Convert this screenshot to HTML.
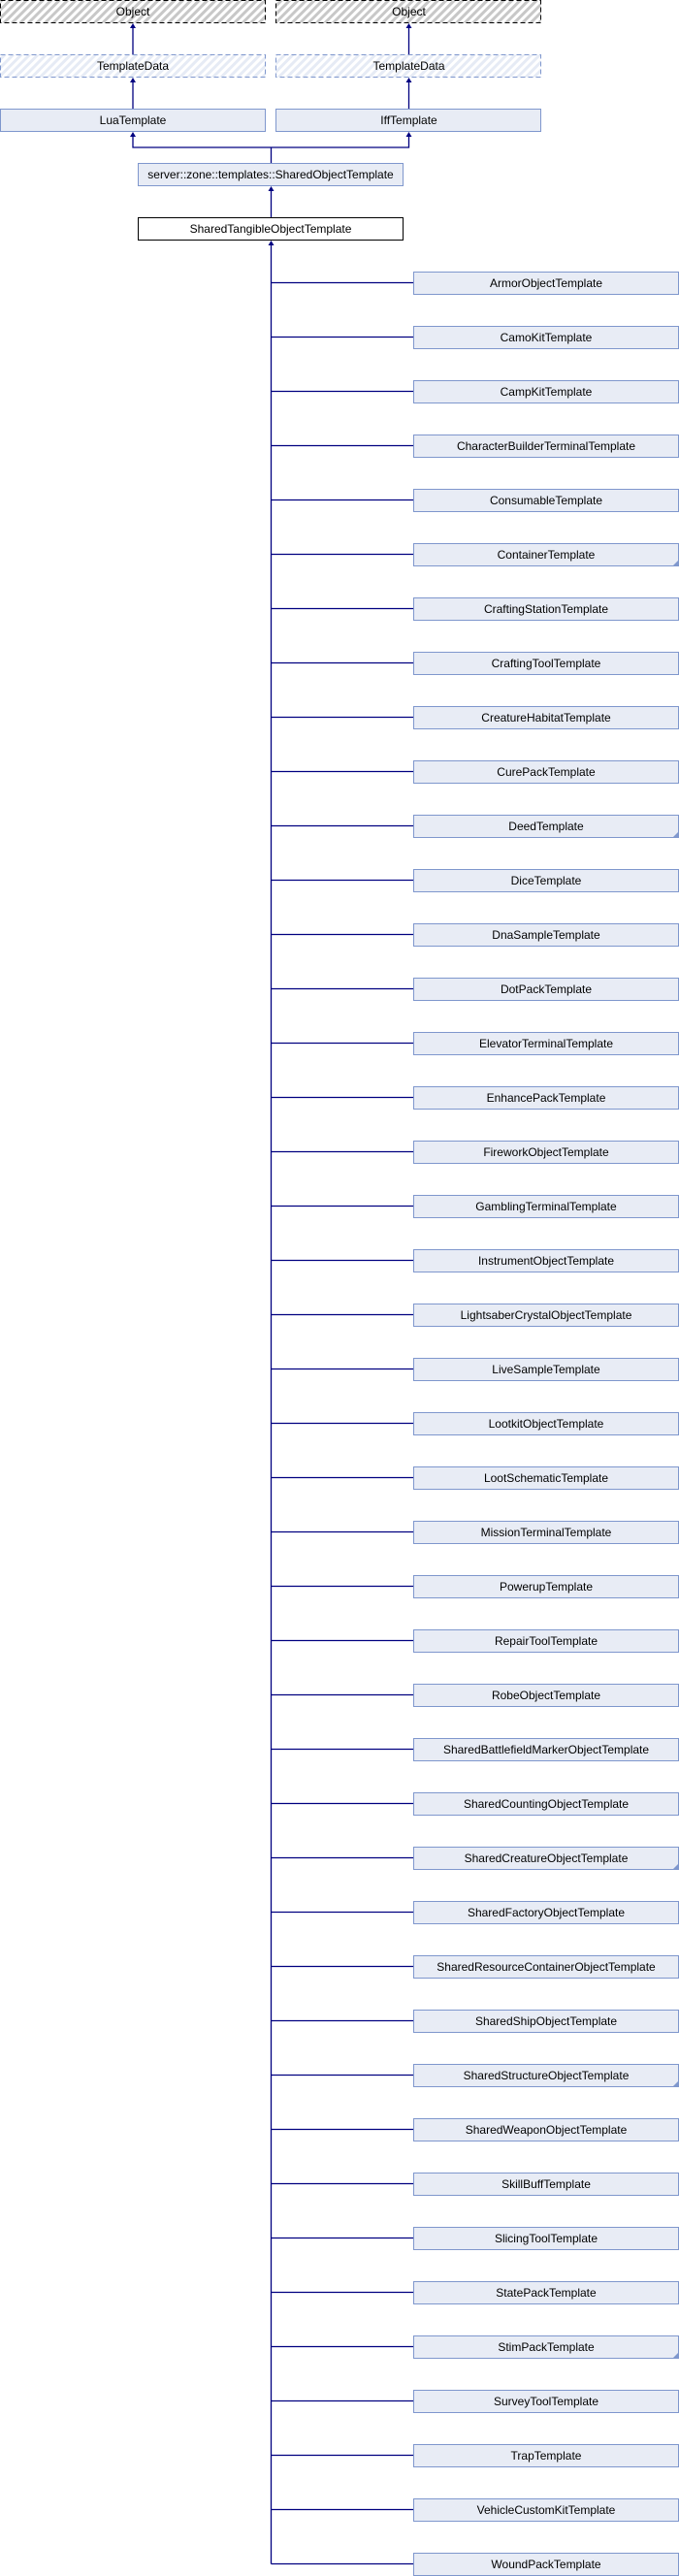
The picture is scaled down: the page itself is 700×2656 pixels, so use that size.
<!DOCTYPE html>
<html><head><meta charset="utf-8"><style>
html,body{margin:0;padding:0;background:#fff;}
svg{display:block;}
text{font-family:"Liberation Sans",Arial,sans-serif;font-size:12px;fill:#000;text-anchor:middle;}
.b{fill:#e8ecf5;stroke:#7f97cd;}
.l{stroke:#000080;stroke-width:1.3;}
.f{fill:#7f97cd;}
</style></head><body>
<svg width="700" height="2656" viewBox="0 0 700 2656" xmlns="http://www.w3.org/2000/svg">
<defs>
<pattern id="h1" patternUnits="userSpaceOnUse" width="6" height="6" patternTransform="rotate(45)">
<rect width="6" height="6" fill="#fff"/><rect width="3" height="6" fill="#c8c8c8"/></pattern>
<pattern id="h2" patternUnits="userSpaceOnUse" width="6" height="6" patternTransform="rotate(45)">
<rect width="6" height="6" fill="#fff"/><rect width="3" height="6" fill="#e6ebf5"/></pattern>
</defs>
<g stroke="#000080" stroke-width="1.3" fill="none">
<line x1="137" y1="28" x2="137" y2="57"/>
<line x1="421.5" y1="28" x2="421.5" y2="57"/>
<line x1="137" y1="84" x2="137" y2="112"/>
<line x1="421.5" y1="84" x2="421.5" y2="112"/>
<polyline points="137,140 137,152 421.5,152 421.5,140"/>
<line x1="279.5" y1="152" x2="279.5" y2="168"/>
<line x1="279.5" y1="196" x2="279.5" y2="224"/>
<line x1="279.5" y1="252" x2="279.5" y2="2643.5"/>
</g>
<g fill="#000080">
<polygon points="137,24 134,29 140,29"/>
<polygon points="421.5,24 418.5,29 424.5,29"/>
<polygon points="137,80 134,85 140,85"/>
<polygon points="421.5,80 418.5,85 424.5,85"/>
<polygon points="137,136 134,141 140,141"/>
<polygon points="421.5,136 418.5,141 424.5,141"/>
<polygon points="279.5,192 276.5,197 282.5,197"/>
<polygon points="279.5,248 276.5,253 282.5,253"/>
</g>
<rect x="0.5" y="0.5" width="273" height="23" fill="url(#h1)" stroke="#000" stroke-dasharray="5,3"/>
<text x="137" y="16">Object</text>
<rect x="284.5" y="0.5" width="273" height="23" fill="url(#h1)" stroke="#000" stroke-dasharray="5,3"/>
<text x="421.5" y="16">Object</text>
<rect x="0.5" y="56.5" width="273" height="23" fill="url(#h2)" stroke="#7f97cd" stroke-dasharray="5,3"/>
<text x="137" y="72">TemplateData</text>
<rect x="284.5" y="56.5" width="273" height="23" fill="url(#h2)" stroke="#7f97cd" stroke-dasharray="5,3"/>
<text x="421.5" y="72">TemplateData</text>
<rect class="b" x="0.5" y="112.5" width="273" height="23"/>
<text x="137" y="128">LuaTemplate</text>
<rect class="b" x="284.5" y="112.5" width="273" height="23"/>
<text x="421.5" y="128">IffTemplate</text>
<rect class="b" x="142.5" y="168.5" width="273" height="23"/>
<text x="279" y="184">server::zone::templates::SharedObjectTemplate</text>
<rect x="142.5" y="224.5" width="273" height="23" fill="#fff" stroke="#000"/>
<text x="279" y="240">SharedTangibleObjectTemplate</text>

<g transform="translate(0,280)"><line class="l" x1="279.5" y1="11.5" x2="426" y2="11.5"/><rect class="b" x="426.5" y="0.5" width="273" height="23"/><text x="563" y="16">ArmorObjectTemplate</text></g>
<g transform="translate(0,336)"><line class="l" x1="279.5" y1="11.5" x2="426" y2="11.5"/><rect class="b" x="426.5" y="0.5" width="273" height="23"/><text x="563" y="16">CamoKitTemplate</text></g>
<g transform="translate(0,392)"><line class="l" x1="279.5" y1="11.5" x2="426" y2="11.5"/><rect class="b" x="426.5" y="0.5" width="273" height="23"/><text x="563" y="16">CampKitTemplate</text></g>
<g transform="translate(0,448)"><line class="l" x1="279.5" y1="11.5" x2="426" y2="11.5"/><rect class="b" x="426.5" y="0.5" width="273" height="23"/><text x="563" y="16">CharacterBuilderTerminalTemplate</text></g>
<g transform="translate(0,504)"><line class="l" x1="279.5" y1="11.5" x2="426" y2="11.5"/><rect class="b" x="426.5" y="0.5" width="273" height="23"/><text x="563" y="16">ConsumableTemplate</text></g>
<g transform="translate(0,560)"><line class="l" x1="279.5" y1="11.5" x2="426" y2="11.5"/><rect class="b" x="426.5" y="0.5" width="273" height="23"/><polygon class="f" points="699,18 699,23 694,23"/><text x="563" y="16">ContainerTemplate</text></g>
<g transform="translate(0,616)"><line class="l" x1="279.5" y1="11.5" x2="426" y2="11.5"/><rect class="b" x="426.5" y="0.5" width="273" height="23"/><text x="563" y="16">CraftingStationTemplate</text></g>
<g transform="translate(0,672)"><line class="l" x1="279.5" y1="11.5" x2="426" y2="11.5"/><rect class="b" x="426.5" y="0.5" width="273" height="23"/><text x="563" y="16">CraftingToolTemplate</text></g>
<g transform="translate(0,728)"><line class="l" x1="279.5" y1="11.5" x2="426" y2="11.5"/><rect class="b" x="426.5" y="0.5" width="273" height="23"/><text x="563" y="16">CreatureHabitatTemplate</text></g>
<g transform="translate(0,784)"><line class="l" x1="279.5" y1="11.5" x2="426" y2="11.5"/><rect class="b" x="426.5" y="0.5" width="273" height="23"/><text x="563" y="16">CurePackTemplate</text></g>
<g transform="translate(0,840)"><line class="l" x1="279.5" y1="11.5" x2="426" y2="11.5"/><rect class="b" x="426.5" y="0.5" width="273" height="23"/><polygon class="f" points="699,18 699,23 694,23"/><text x="563" y="16">DeedTemplate</text></g>
<g transform="translate(0,896)"><line class="l" x1="279.5" y1="11.5" x2="426" y2="11.5"/><rect class="b" x="426.5" y="0.5" width="273" height="23"/><text x="563" y="16">DiceTemplate</text></g>
<g transform="translate(0,952)"><line class="l" x1="279.5" y1="11.5" x2="426" y2="11.5"/><rect class="b" x="426.5" y="0.5" width="273" height="23"/><text x="563" y="16">DnaSampleTemplate</text></g>
<g transform="translate(0,1008)"><line class="l" x1="279.5" y1="11.5" x2="426" y2="11.5"/><rect class="b" x="426.5" y="0.5" width="273" height="23"/><text x="563" y="16">DotPackTemplate</text></g>
<g transform="translate(0,1064)"><line class="l" x1="279.5" y1="11.5" x2="426" y2="11.5"/><rect class="b" x="426.5" y="0.5" width="273" height="23"/><text x="563" y="16">ElevatorTerminalTemplate</text></g>
<g transform="translate(0,1120)"><line class="l" x1="279.5" y1="11.5" x2="426" y2="11.5"/><rect class="b" x="426.5" y="0.5" width="273" height="23"/><text x="563" y="16">EnhancePackTemplate</text></g>
<g transform="translate(0,1176)"><line class="l" x1="279.5" y1="11.5" x2="426" y2="11.5"/><rect class="b" x="426.5" y="0.5" width="273" height="23"/><text x="563" y="16">FireworkObjectTemplate</text></g>
<g transform="translate(0,1232)"><line class="l" x1="279.5" y1="11.5" x2="426" y2="11.5"/><rect class="b" x="426.5" y="0.5" width="273" height="23"/><text x="563" y="16">GamblingTerminalTemplate</text></g>
<g transform="translate(0,1288)"><line class="l" x1="279.5" y1="11.5" x2="426" y2="11.5"/><rect class="b" x="426.5" y="0.5" width="273" height="23"/><text x="563" y="16">InstrumentObjectTemplate</text></g>
<g transform="translate(0,1344)"><line class="l" x1="279.5" y1="11.5" x2="426" y2="11.5"/><rect class="b" x="426.5" y="0.5" width="273" height="23"/><text x="563" y="16">LightsaberCrystalObjectTemplate</text></g>
<g transform="translate(0,1400)"><line class="l" x1="279.5" y1="11.5" x2="426" y2="11.5"/><rect class="b" x="426.5" y="0.5" width="273" height="23"/><text x="563" y="16">LiveSampleTemplate</text></g>
<g transform="translate(0,1456)"><line class="l" x1="279.5" y1="11.5" x2="426" y2="11.5"/><rect class="b" x="426.5" y="0.5" width="273" height="23"/><text x="563" y="16">LootkitObjectTemplate</text></g>
<g transform="translate(0,1512)"><line class="l" x1="279.5" y1="11.5" x2="426" y2="11.5"/><rect class="b" x="426.5" y="0.5" width="273" height="23"/><text x="563" y="16">LootSchematicTemplate</text></g>
<g transform="translate(0,1568)"><line class="l" x1="279.5" y1="11.5" x2="426" y2="11.5"/><rect class="b" x="426.5" y="0.5" width="273" height="23"/><text x="563" y="16">MissionTerminalTemplate</text></g>
<g transform="translate(0,1624)"><line class="l" x1="279.5" y1="11.5" x2="426" y2="11.5"/><rect class="b" x="426.5" y="0.5" width="273" height="23"/><text x="563" y="16">PowerupTemplate</text></g>
<g transform="translate(0,1680)"><line class="l" x1="279.5" y1="11.5" x2="426" y2="11.5"/><rect class="b" x="426.5" y="0.5" width="273" height="23"/><text x="563" y="16">RepairToolTemplate</text></g>
<g transform="translate(0,1736)"><line class="l" x1="279.5" y1="11.5" x2="426" y2="11.5"/><rect class="b" x="426.5" y="0.5" width="273" height="23"/><text x="563" y="16">RobeObjectTemplate</text></g>
<g transform="translate(0,1792)"><line class="l" x1="279.5" y1="11.5" x2="426" y2="11.5"/><rect class="b" x="426.5" y="0.5" width="273" height="23"/><text x="563" y="16">SharedBattlefieldMarkerObjectTemplate</text></g>
<g transform="translate(0,1848)"><line class="l" x1="279.5" y1="11.5" x2="426" y2="11.5"/><rect class="b" x="426.5" y="0.5" width="273" height="23"/><text x="563" y="16">SharedCountingObjectTemplate</text></g>
<g transform="translate(0,1904)"><line class="l" x1="279.5" y1="11.5" x2="426" y2="11.5"/><rect class="b" x="426.5" y="0.5" width="273" height="23"/><polygon class="f" points="699,18 699,23 694,23"/><text x="563" y="16">SharedCreatureObjectTemplate</text></g>
<g transform="translate(0,1960)"><line class="l" x1="279.5" y1="11.5" x2="426" y2="11.5"/><rect class="b" x="426.5" y="0.5" width="273" height="23"/><text x="563" y="16">SharedFactoryObjectTemplate</text></g>
<g transform="translate(0,2016)"><line class="l" x1="279.5" y1="11.5" x2="426" y2="11.5"/><rect class="b" x="426.5" y="0.5" width="273" height="23"/><text x="563" y="16">SharedResourceContainerObjectTemplate</text></g>
<g transform="translate(0,2072)"><line class="l" x1="279.5" y1="11.5" x2="426" y2="11.5"/><rect class="b" x="426.5" y="0.5" width="273" height="23"/><text x="563" y="16">SharedShipObjectTemplate</text></g>
<g transform="translate(0,2128)"><line class="l" x1="279.5" y1="11.5" x2="426" y2="11.5"/><rect class="b" x="426.5" y="0.5" width="273" height="23"/><polygon class="f" points="699,18 699,23 694,23"/><text x="563" y="16">SharedStructureObjectTemplate</text></g>
<g transform="translate(0,2184)"><line class="l" x1="279.5" y1="11.5" x2="426" y2="11.5"/><rect class="b" x="426.5" y="0.5" width="273" height="23"/><text x="563" y="16">SharedWeaponObjectTemplate</text></g>
<g transform="translate(0,2240)"><line class="l" x1="279.5" y1="11.5" x2="426" y2="11.5"/><rect class="b" x="426.5" y="0.5" width="273" height="23"/><text x="563" y="16">SkillBuffTemplate</text></g>
<g transform="translate(0,2296)"><line class="l" x1="279.5" y1="11.5" x2="426" y2="11.5"/><rect class="b" x="426.5" y="0.5" width="273" height="23"/><text x="563" y="16">SlicingToolTemplate</text></g>
<g transform="translate(0,2352)"><line class="l" x1="279.5" y1="11.5" x2="426" y2="11.5"/><rect class="b" x="426.5" y="0.5" width="273" height="23"/><text x="563" y="16">StatePackTemplate</text></g>
<g transform="translate(0,2408)"><line class="l" x1="279.5" y1="11.5" x2="426" y2="11.5"/><rect class="b" x="426.5" y="0.5" width="273" height="23"/><polygon class="f" points="699,18 699,23 694,23"/><text x="563" y="16">StimPackTemplate</text></g>
<g transform="translate(0,2464)"><line class="l" x1="279.5" y1="11.5" x2="426" y2="11.5"/><rect class="b" x="426.5" y="0.5" width="273" height="23"/><text x="563" y="16">SurveyToolTemplate</text></g>
<g transform="translate(0,2520)"><line class="l" x1="279.5" y1="11.5" x2="426" y2="11.5"/><rect class="b" x="426.5" y="0.5" width="273" height="23"/><text x="563" y="16">TrapTemplate</text></g>
<g transform="translate(0,2576)"><line class="l" x1="279.5" y1="11.5" x2="426" y2="11.5"/><rect class="b" x="426.5" y="0.5" width="273" height="23"/><text x="563" y="16">VehicleCustomKitTemplate</text></g>
<g transform="translate(0,2632)"><line class="l" x1="279.5" y1="11.5" x2="426" y2="11.5"/><rect class="b" x="426.5" y="0.5" width="273" height="23"/><text x="563" y="16">WoundPackTemplate</text></g>
</svg>
</body></html>
